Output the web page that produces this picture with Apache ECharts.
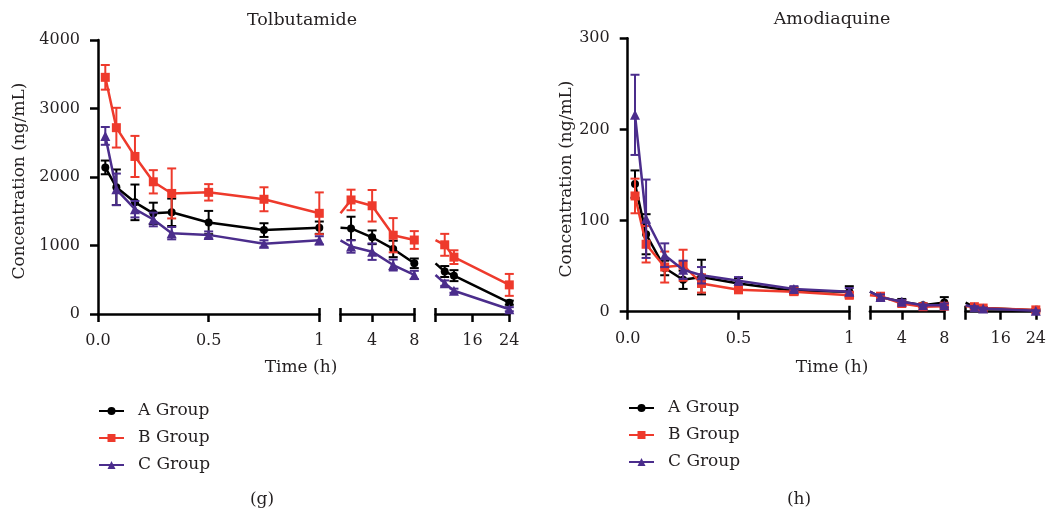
<!DOCTYPE html>
<html><head><meta charset="utf-8">
<script src="https://cdn.jsdelivr.net/npm/echarts@6/dist/echarts.min.js"></script>
<style>html,body{margin:0;padding:0;background:#fff}#c{width:1049px;height:513px}</style>
</head><body><div id="c"></div>
<script>
// sampling times (h)
const times = [0.033, 0.083, 0.167, 0.25, 0.333, 0.5, 0.75, 1, 2, 4, 6, 8, 10, 12, 24];

// Tolbutamide (ng/mL) mean and SD
const tolbA   = [2140, 1850, 1630, 1470, 1485, 1335, 1225, 1260, 1250, 1120, 950, 740, 620, 560, 165];
const tolbAsd = [100, 260, 260, 155, 200, 170, 100, 90, 170, 100, 120, 70, 80, 80, 30];
const tolbB   = [3455, 2720, 2300, 1930, 1760, 1776, 1675, 1470, 1665, 1580, 1150, 1080, 1010, 830, 425];
const tolbBsd = [180, 290, 300, 170, 365, 120, 175, 305, 150, 230, 250, 130, 160, 100, 160];
const tolbC   = [2600, 1820, 1530, 1380, 1180, 1155, 1025, 1075, 985, 910, 715, 570, 450, 340, 70];
const tolbCsd = [130, 230, 120, 100, 90, 50, 50, 60, 90, 120, 80, 60, 40, 30, 30];

// Amodiaquine (ng/mL) mean and SD
const amodA   = [140, 85, 48, 35, 38, 31, 23, 22, 16, 11, 7, 10, 5, 4, 1.5];
const amodAsd = [15, 22, 8, 10, 19, 6, 4, 6, 4, 3, 2, 6, 2, 1, 1];
const amodB   = [127, 74, 49, 51, 31, 24, 22, 18, 17, 9, 5.5, 6, 5.5, 4, 2];
const amodBsd = [19, 20, 17, 17, 10, 3, 3, 3, 3, 2, 1, 2, 1, 1, 1];
const amodC   = [216, 102, 62, 46, 40, 34, 25, 22, 16, 11, 7, 7, 5, 3.5, 1];
const amodCsd = [44, 43, 13, 10, 9, 4, 3, 4, 3, 2, 1, 2, 1, 1, 0.5];

const groupNames = ['A Group', 'B Group', 'C Group'];
const titles = ['Tolbutamide', 'Amodiaquine'];
const yTicks1 = [0, 1000, 2000, 3000, 4000];
const yTicks2 = [0, 100, 200, 300];
const xTickSeg1 = [0, 0.5, 1];
const xTickSeg2 = [4, 8];
const xTickSeg3 = [16, 24];
const panelLetters = ['(g)', '(h)'];

const FONT = 'DejaVu Serif';
const TXT = '#231f20';
const colors = ['#000000', '#ee3a2c', '#4b2d8c'];
const symbols = ['circle', 'rect', 'triangle'];
const symSizes = [8, 9, 10];

const panels = [
  { top: 40, bottom: 314, yTicks: yTicks1,
    segs: [[98, 319.3], [340.5, 414.3], [435.5, 509.3]],
    groups: [[tolbA, tolbAsd], [tolbB, tolbBsd], [tolbC, tolbCsd]] },
  { top: 38.3, bottom: 311.7, yTicks: yTicks2,
    segs: [[627.7, 849.3], [869.9, 944.3], [965.6, 1039]],
    groups: [[amodA, amodAsd], [amodB, amodBsd], [amodC, amodCsd]] }
];
const segRanges = [[0, 1], [1, 8], [8, 24]];
const segLabels = [xTickSeg1, xTickSeg2, xTickSeg3];

const grid = [], xAxis = [], yAxis = [], lineSeries = [], errSeries = [];
let gi = 0;
panels.forEach((p, pi) => {
  const yt = p.yTicks;
  p.segs.forEach((s, si) => {
    const [mn, mx] = segRanges[si];
    grid.push({ left: s[0], top: p.top, width: s[1] - s[0], height: p.bottom - p.top });
    const tickVals = si === 0 ? xTickSeg1 : [mn].concat(segLabels[si]);
    xAxis.push({
      type: 'value', gridIndex: gi, min: mn, max: mx, position: 'bottom',
      axisLine: { show: true, onZero: false, lineStyle: { color: '#000', width: 2.5 } },
      axisTick: { show: true, customValues: tickVals, length: 8, lineStyle: { color: '#000', width: 2.5 } },
      axisLabel: { customValues: segLabels[si], margin: 19, fontFamily: FONT, fontSize: 16, color: TXT,
        formatter: v => (si === 0 && v !== 1) ? v.toFixed(1) : String(v) },
      splitLine: { show: false }
    });
    // cap ticks (upward) at segment ends
    xAxis.push({
      type: 'value', gridIndex: gi, min: mn, max: mx, position: 'bottom',
      axisLine: { show: false },
      axisTick: { show: true, inside: true, customValues: si === 0 ? [mx] : [mn, mx], length: 6,
        lineStyle: { color: '#000', width: 2.5 } },
      axisLabel: { show: false }, splitLine: { show: false }
    });
    yAxis.push({
      type: 'value', gridIndex: gi, min: yt[0], max: yt[yt.length - 1], interval: yt[1] - yt[0],
      show: si === 0,
      axisLine: { show: true, lineStyle: { color: '#000', width: 2.5 } },
      axisTick: { show: true, length: 8, lineStyle: { color: '#000', width: 2.5 } },
      axisLabel: { margin: 18, fontFamily: FONT, fontSize: 16, color: TXT, formatter: v => String(v) },
      splitLine: { show: false }
    });
    const xIdx = xAxis.length - 2;
    p.groups.forEach((g, k) => {
      const [mean, sd] = g;
      const lineData = [], errData = [];
      times.forEach((t, i) => {
        if (t < mn || t > mx) return;
        const owned = si === 0 ? true : t > mn;
        const item = { value: [t, mean[i]] };
        if (!owned) item.symbol = 'none';
        lineData.push(item);
        if (owned) errData.push([t, mean[i], sd[i]]);
      });
      lineSeries.push({
        type: 'line', name: groupNames[k], xAxisIndex: xIdx, yAxisIndex: gi,
        data: lineData, symbol: symbols[k], symbolSize: symSizes[k], showSymbol: true,
        color: colors[k], itemStyle: { color: colors[k] },
        lineStyle: { color: colors[k], width: 2.5 }, z: 3 + k * 2, animation: false
      });
      errSeries.push({
        type: 'custom', name: groupNames[k], xAxisIndex: xIdx, yAxisIndex: gi,
        data: errData, encode: { x: 0, y: 1 }, z: 2 + k * 2, animation: false, silent: true,
        renderItem: (params, api) => {
          const x = api.value(0), y = api.value(1), e = api.value(2);
          const hi = api.coord([x, y + e]), lo = api.coord([x, y - e]);
          const w = 4.5;
          const st = { stroke: colors[k], lineWidth: 2 };
          return { type: 'group', children: [
            { type: 'line', shape: { x1: hi[0], y1: hi[1], x2: lo[0], y2: lo[1] }, style: st },
            { type: 'line', shape: { x1: hi[0] - w, y1: hi[1], x2: hi[0] + w, y2: hi[1] }, style: st },
            { type: 'line', shape: { x1: lo[0] - w, y1: lo[1], x2: lo[0] + w, y2: lo[1] }, style: st }
          ]};
        }
      });
    });
    gi++;
  });
});

const txt = (text, x, y, rot, fs) => ({
  type: 'text', x: x, y: y, rotation: rot || 0,
  style: { text: text, fontFamily: FONT, fontSize: fs || 17, fill: TXT, textAlign: 'center', textVerticalAlign: 'middle' }
});
const graphic = [
  txt(titles[0], 302, 20, 0, 17.5), txt(titles[1], 832, 19, 0, 17.5),
  txt('Concentration (ng/mL)', 20, 181, Math.PI / 2), txt('Concentration (ng/mL)', 567, 179, Math.PI / 2),
  txt('Time (h)', 301, 368), txt('Time (h)', 832, 368),
  txt(panelLetters[0], 262, 500), txt(panelLetters[1], 799, 500)
];

const legendBase = {
  orient: 'vertical', data: groupNames, itemWidth: 25, itemHeight: 10, itemGap: 9, padding: 0,
  textStyle: { fontFamily: FONT, fontSize: 17, color: TXT, lineHeight: 18, padding: [0, 0, 0, 9] },
  selectedMode: false
};
const legend = [
  Object.assign({}, legendBase, { left: 98, top: 402 }),
  Object.assign({}, legendBase, { left: 628, top: 399 })
];

const chart = echarts.init(document.getElementById('c'), null, { renderer: 'canvas' });
chart.setOption({
  backgroundColor: '#ffffff', animation: false,
  grid: grid, xAxis: xAxis, yAxis: yAxis, legend: legend,
  series: lineSeries.concat(errSeries), graphic: graphic
});
</script></body></html>
